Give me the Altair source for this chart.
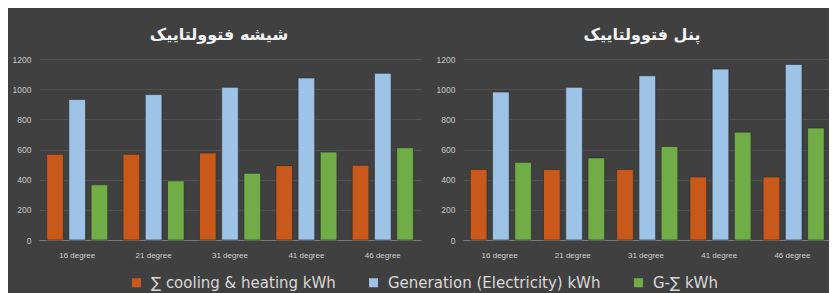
import altair as alt
import pandas as pd

categories = ["16 degree", "21 degree", "31 degree", "41 degree", "46 degree"]
series = ["∑ cooling & heating kWh", "Generation (Electricity) kWh", "G-∑ kWh"]
colors = ["#c9591a", "#9dc3e6", "#70ad47"]

glass_title = "شیشه فتوولتاییک"
glass_cooling = [568, 568, 577, 493, 495]
glass_generation = [931, 964, 1012, 1074, 1105]
glass_net = [366, 392, 442, 583, 612]

panel_title = "پنل فتوولتاییک"
panel_cooling = [467, 467, 467, 418, 418]
panel_generation = [981, 1012, 1089, 1133, 1164]
panel_net = [515, 544, 620, 715, 742]

y_ticks = [0, 200, 400, 600, 800, 1000, 1200]


def make_df(vals):
    rows = []
    for s, arr in zip(series, vals):
        for c, v in zip(categories, arr):
            rows.append({"category": c, "series": s, "value": v})
    return pd.DataFrame(rows)


def panel(df, title, width, show_legend, dx):
    return (
        alt.Chart(df, title=alt.TitleParams(title, offset=12, dx=dx))
        .mark_bar(stroke="#2a2a2a", strokeWidth=0.6)
        .encode(
            x=alt.X("category:N", sort=categories, title=None,
                    scale=alt.Scale(paddingInner=0.2, paddingOuter=0.1),
                    axis=alt.Axis(labelAngle=0, ticks=False, domainColor="#7a7a7a",
                                  labelColor="#d0d0d0", labelFontSize=8, labelPadding=11,
                                  labelFont="Liberation Sans")),
            xOffset=alt.XOffset("series:N", sort=series,
                                scale=alt.Scale(paddingInner=0.25)),
            y=alt.Y("value:Q", title=None,
                    scale=alt.Scale(domain=[0, 1200]),
                    axis=alt.Axis(values=y_ticks, format="d", ticks=False, domain=False,
                                  gridColor="#565656", gridWidth=0.8,
                                  labelColor="#c8c8c8", labelFontSize=8.5,
                                  labelPadding=8, labelFont="Liberation Sans")),
            color=alt.Color("series:N", sort=series,
                            scale=alt.Scale(domain=series, range=colors),
                            legend=alt.Legend(title=None, orient="none", direction="horizontal",
                                              legendX=90, legendY=216,
                                              symbolType="square", symbolSize=81,
                                              symbolStrokeWidth=0, labelOffset=7,
                                              labelColor="#d9d9d9", labelFontSize=15,
                                              labelFont="DejaVu Sans", columnPadding=30,
                                              labelLimit=400) if show_legend else None),
        )
        .properties(width=width, height=181)
    )


left = panel(make_df([glass_cooling, glass_generation, glass_net]), glass_title, 382, True, -11)
right = panel(make_df([panel_cooling, panel_generation, panel_net]), panel_title, 366, False, -4)

chart = (
    alt.hconcat(left, right, spacing=15)
    .resolve_scale(color="shared")
    .properties(padding={"left": 4, "top": 19, "right": 0, "bottom": 4}, background="#404040")
    .configure_view(stroke=None)
    .configure_title(color="#f2f2f2", fontSize=16, font="DejaVu Sans", fontWeight="bold",
                     anchor="middle")
)

chart.save("out.html", embed_options={"renderer": "svg", "actions": False})
